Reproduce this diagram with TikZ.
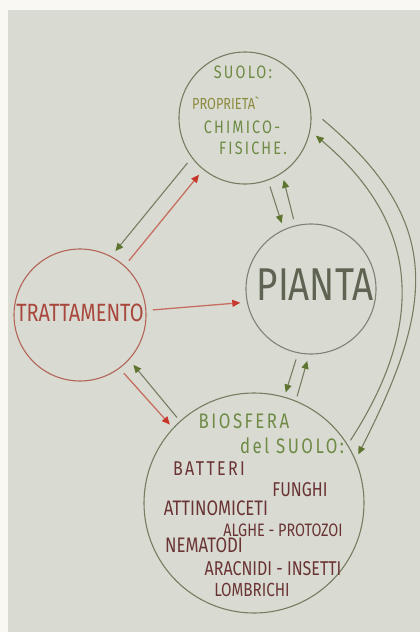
\documentclass[tikz,border=0pt]{standalone}
\usepackage{fontspec}
\newfontfamily\hand[FakeStretch=0.8]{Fira Sans}
\newfontfamily\handwide[FakeStretch=0.8,LetterSpace=12]{Fira Sans}
\usetikzlibrary{arrows.meta}
\definecolor{paper}{HTML}{FAF8F2}
\definecolor{board}{HTML}{D9DBD3}
\definecolor{olive}{HTML}{6F8A45}
\definecolor{olivehead}{HTML}{5E7530}
\definecolor{oliveline}{HTML}{767D60}
\definecolor{mustard}{HTML}{8C8A3E}
\definecolor{pencil}{HTML}{5E6352}
\definecolor{brick}{HTML}{A8473C}
\definecolor{brickline}{HTML}{C66F61}
\definecolor{brickhead}{HTML}{C8372B}
\definecolor{maroon}{HTML}{6A3434}
\tikzset{
  bubble/.style={
    circle,
    draw=oliveline,
    line width=1.1pt,
    inner sep=0pt,
    outer sep=7pt
  },
  handtext/.style={
    font=\hand\fontsize{#1}{#1}\selectfont,
    inner sep=0pt
  },
  handwide/.style={
    font=\handwide\fontsize{#1}{#1}\selectfont,
    inner sep=0pt
  },
  greenarrow/.style={
    -{Triangle[length=8pt,width=7pt,color=olivehead]},
    line width=1.1pt,
    draw=oliveline
  },
  redarrow/.style={
    -{Triangle[length=8pt,width=7pt,color=brickhead]},
    line width=1.3pt,
    draw=brickline
  }
}

\begin{document}
\begin{tikzpicture}[x=1pt,y=-1pt]
  \useasboundingbox (0,0) rectangle (420,632);
  \fill[paper] (0,0) rectangle (420,632);
  \fill[board] (8,10) rectangle (420,632);

  % the four circles
  \node[bubble, minimum size=132pt] (suolo) at (245,118) {};
  \node[bubble, minimum size=130pt, draw=pencil!80] (pianta) at (311,289) {};
  \node[bubble, minimum size=132pt, draw=brickline!90!black] (trattamento) at (80,315) {};
  \node[bubble, minimum size=220pt, outer sep=5pt] (biosfera) at (254,503) {};

  % texts
  \node[handwide=18, text=olive] (suolo-title) at (243,72) {SUOLO:};
  \node[handtext=16, text=mustard] (suolo-prop) at (226,103) {PROPRIETA\textasciigrave};
  \node[handwide=18, text=olive] (suolo-chim) at (242,127) {CHIMICO-};
  \node[handwide=18, text=olive] (suolo-fis) at (253,148) {FISICHE.};

  \node[handtext=46, text=pencil] (pianta-t) at (315,285) {PIANTA};
  \node[handtext=25, text=brick] (trattamento-t) at (80,313) {TRATTAMENTO};

  \node[handwide=21, text=olive] (bio-title) at (244,421) {BIOSFERA};
  \node[handwide=21, text=olive] (bio-sub) at (292,446) {del SUOLO:};
  \node[handwide=20, text=maroon] (bio-batteri) at (209,469) {BATTERI};
  \node[handtext=20, text=maroon] (bio-funghi) at (300,490) {FUNGHI};
  \node[handtext=21, text=maroon] (bio-attino) at (216,508) {ATTINOMICETI};
  \node[handtext=18, text=maroon] (bio-alghe) at (283,530) {ALGHE - PROTOZOI};
  \node[handtext=21, text=maroon] (bio-nematodi) at (204,545) {NEMATODI};
  \node[handtext=20, text=maroon] (bio-aracnidi) at (273,569) {ARACNIDI - INSETTI};
  \node[handtext=19, text=maroon] (bio-lombrichi) at (252,590) {LOMBRICHI};

  % arrows
  \draw[greenarrow] (suolo.218) -- (trattamento.61);
  \draw[redarrow] (trattamento.48) -- (suolo.231);
  \draw[redarrow] (trattamento.4) -- (pianta.191);
  \draw[redarrow] (trattamento.307) -- (biosfera.137);
  \draw[greenarrow] (biosfera.132) -- (trattamento.317);
  \draw[greenarrow] (suolo.290) -- (pianta.114);
  \draw[greenarrow] (pianta.104) -- (suolo.302);
  \draw[greenarrow] (pianta.258) -- (biosfera.74);
  \draw[greenarrow] (biosfera.68) -- (pianta.267);
  \draw[greenarrow, shorten <=6pt] (suolo.2) to[out=-40, in=63, looseness=1.25] (biosfera.25);
  \draw[greenarrow] (biosfera.33) to[out=57, in=-40, looseness=1.15] (suolo.346);
\end{tikzpicture}
\end{document}
